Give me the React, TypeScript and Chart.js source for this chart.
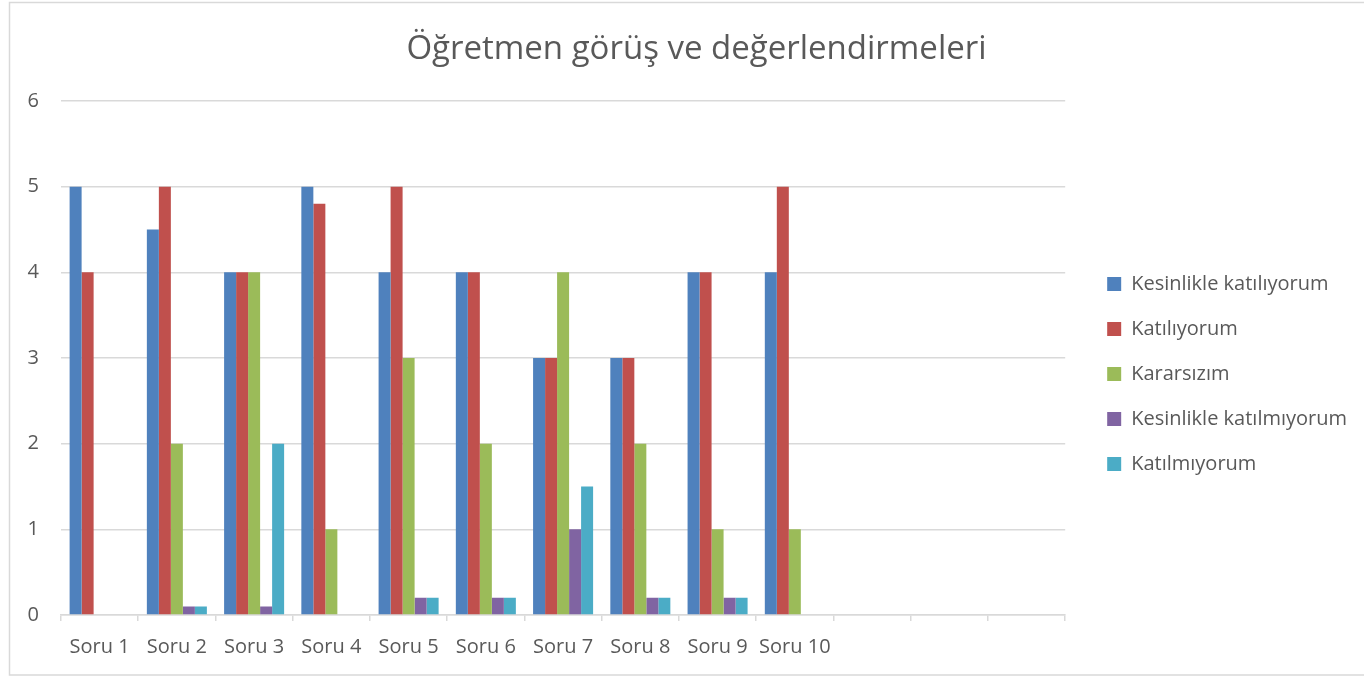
import { useEffect, useRef } from "react";
import { Chart, registerables } from "chart.js";

Chart.register(...registerables);

const categories = ["Soru 1", "Soru 2", "Soru 3", "Soru 4", "Soru 5", "Soru 6", "Soru 7", "Soru 8", "Soru 9", "Soru 10", "", "", ""];
const seriesNames = ["Kesinlikle katılıyorum", "Katılıyorum", "Kararsızım", "Kesinlikle katılmıyorum", "Katılmıyorum"];
const kesinlikleKatiliyorum = [5, 4.5, 4, 5, 4, 4, 3, 3, 4, 4];
const katiliyorum = [4, 5, 4, 4.8, 5, 4, 3, 3, 4, 5];
const kararsizim = [0, 2, 4, 1, 3, 2, 4, 2, 1, 1];
const kesinlikleKatilmiyorum = [0, 0.1, 0.1, 0, 0.2, 0.2, 1, 0.2, 0.2, 0];
const katilmiyorum = [0, 0.1, 2, 0, 0.2, 0.2, 1.5, 0.2, 0.2, 0];
const seriesColors = ["#4F81BD", "#C0504D", "#9BBB59", "#8064A2", "#4BACC6"];
const yTicks = [0, 1, 2, 3, 4, 5, 6];
const titleText = "Öğretmen görüş ve değerlendirmeleri";

const FONT = "'Open Sans', 'Noto Sans', sans-serif";
const TEXT = "#595959";
const GRID = "#d9d9d9";

const borderPlugin = {
  id: "outerBorder",
  beforeDraw(chart: any) {
    const ctx = chart.ctx;
    ctx.save();
    ctx.fillStyle = "#ffffff";
    ctx.fillRect(0, 0, chart.width, chart.height);
    ctx.strokeStyle = GRID;
    ctx.lineWidth = 1.5;
    ctx.strokeRect(9.5, 2.5, chart.width + 10, 672.5);
    ctx.restore();
  },
};

export default function App() {
  const ref = useRef<HTMLCanvasElement | null>(null);

  useEffect(() => {
    if (!ref.current) return;
    const values = [kesinlikleKatiliyorum, katiliyorum, kararsizim, kesinlikleKatilmiyorum, katilmiyorum];
    const chart = new Chart(ref.current, {
      type: "bar",
      data: {
        labels: categories,
        datasets: values.map((v, i) => ({
          label: seriesNames[i],
          data: v,
          backgroundColor: seriesColors[i],
          borderWidth: 0,
          categoryPercentage: 0.777,
          barPercentage: 1,
          yAxisID: "y",
        })),
      },
      options: {
        animation: false,
        responsive: false,
        devicePixelRatio: 1,
        layout: { padding: { left: 36, right: 7, top: 0, bottom: 4 } },
        plugins: {
          tooltip: { enabled: false },
          title: {
            display: true,
            text: titleText,
            color: TEXT,
            font: { family: FONT, size: 33, weight: "normal" },
            padding: { top: 30, bottom: 31.4 },
          },
          legend: {
            position: "right",
            fullSize: false,
            align: "center",
            maxWidth: 283,
            title: { display: true, text: "", padding: { top: 0, bottom: 17.6 } },
            labels: {
              boxWidth: 14,
              boxHeight: 14,
              padding: 25,
              color: TEXT,
              font: { family: FONT, size: 20 },
            },
          },
        },
        scales: {
          x: {
            grid: {
              display: true,
              drawOnChartArea: false,
              drawTicks: true,
              tickLength: 6,
              color: GRID,
              lineWidth: 1.5,
              offset: true,
            },
            border: { display: true, color: GRID, width: 1.5 },
            ticks: {
              color: TEXT,
              font: { family: FONT, size: 20 },
              padding: 14,
              maxRotation: 0,
              autoSkip: false,
            },
          },
          y: {
            min: yTicks[0],
            max: yTicks[yTicks.length - 1],
            grid: { color: GRID, lineWidth: 1.5, drawTicks: false },
            border: { display: false },
            ticks: {
              stepSize: 1,
              color: TEXT,
              font: { family: FONT, size: 20 },
              padding: 22,
            },
            afterFit(s: any) {
              s.width = 25;
              s._computeLabelArea = () => undefined;
            },
          },
          yGap: {
            type: "linear",
            position: "right",
            display: true,
            grid: { display: false, drawOnChartArea: false },
            border: { display: false },
            ticks: { display: false },
            afterFit(s: any) {
              s.width = 17;
            },
          },
        },
      },
      plugins: [borderPlugin],
    } as any);
    return () => chart.destroy();
  }, []);

  return (
    <canvas
      ref={ref}
      width={1364}
      height={677}
      style={{ position: "absolute", left: 0, top: 0, width: 1364, height: 677 }}
    />
  );
}
